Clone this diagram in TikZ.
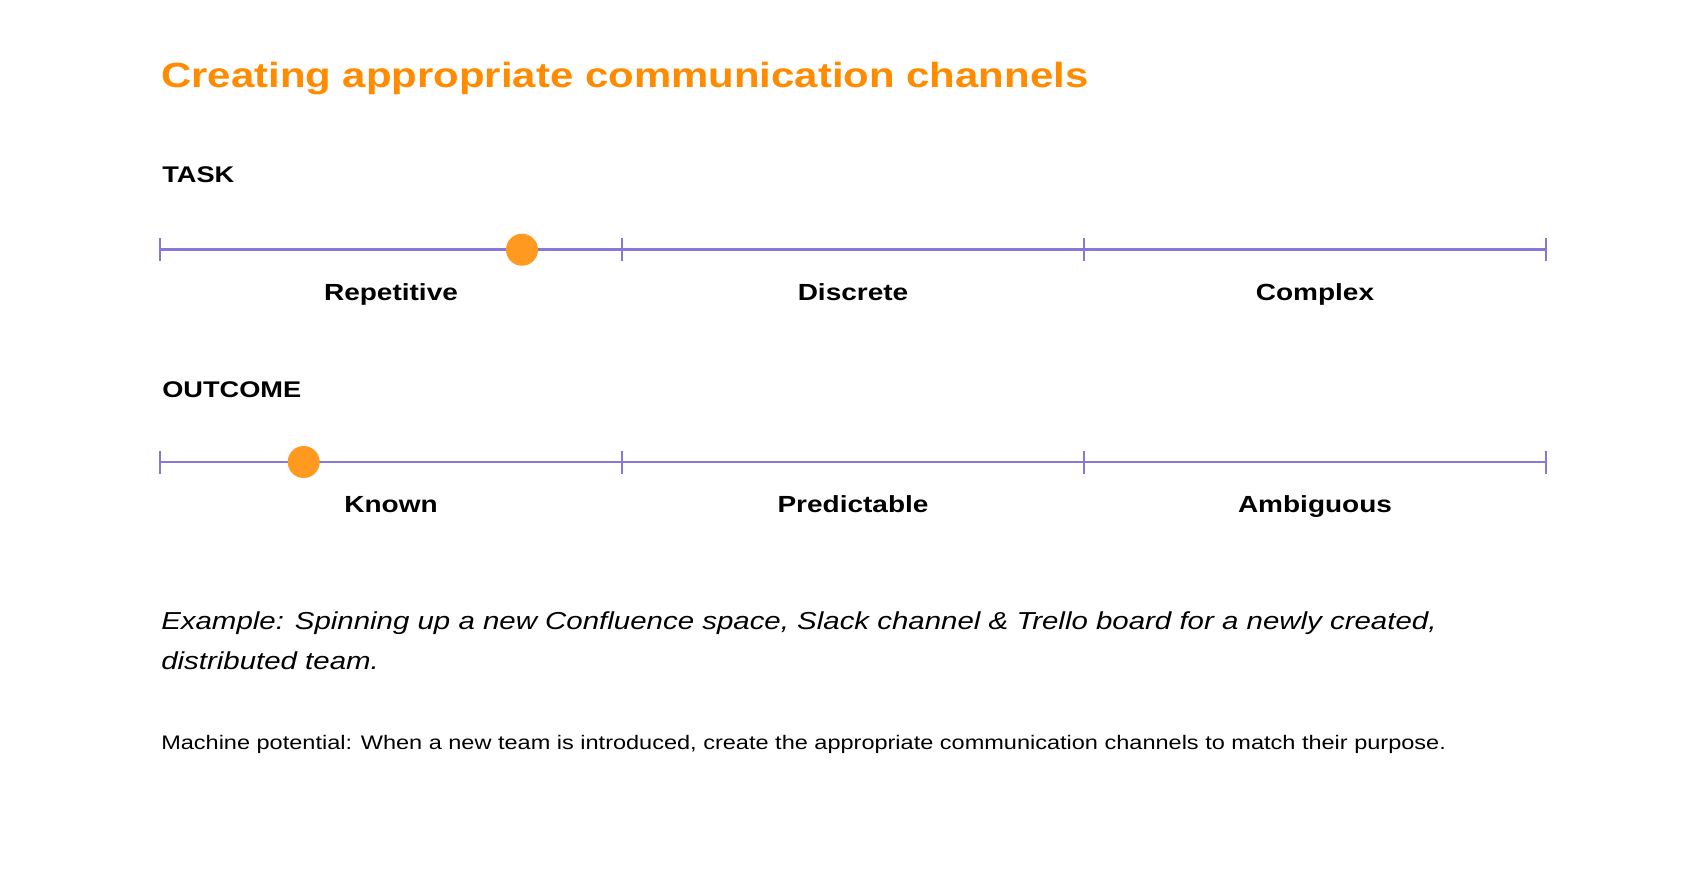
\documentclass[tikz,border=0pt]{standalone}
\usepackage{fontspec}
\setmainfont{Liberation Sans}[FakeStretch=1.2]
\definecolor{scalecol}{HTML}{8777D9}
\definecolor{dotcol}{HTML}{FF991F}
\definecolor{titlecol}{HTML}{FF8B00}
\begin{document}
\begin{tikzpicture}[x=0.75pt,y=-0.75pt,
  scaleline/.style={draw=scalecol, line width=2.1pt},
  tickmark/.style={draw=scalecol, line width=2.2pt},
  marker/.style={circle, fill=dotcol, minimum size=24pt, inner sep=0pt},
  titletext/.style={font=\bfseries\fontsize{26.2}{30}\selectfont, text=titlecol, anchor=base west, inner sep=0pt},
  heading/.style={font=\bfseries\fontsize{17}{20}\selectfont, anchor=base west, inner sep=0pt},
  catlabel/.style={font=\bfseries\fontsize{17.5}{20}\selectfont, anchor=base, inner sep=0pt},
  exampletext/.style={font=\itshape\fontsize{18.4}{22}\selectfont, anchor=base west, inner sep=0pt},
  notetext/.style={font=\fontsize{14.7}{18}\selectfont, anchor=base west, inner sep=0pt}]
\useasboundingbox (0,0) rectangle (1706,872);
\fill[white] (0,0) rectangle (1706,872);

\node[titletext] (title) at (161,87) {Creating appropriate communication channels};

% TASK scale
\node[heading] (task) at (162,182) {TASK};
\coordinate (a0) at (160,249.7);
\coordinate (a1) at (622,249.7);
\coordinate (a2) at (1084,249.7);
\coordinate (a3) at (1546,249.7);
\draw[scaleline] (a0) -- (a3);
\foreach \p in {a0,a1,a2,a3} \draw[tickmark] (\p) ++(0,-11.5) -- ++(0,23);
\node[marker] (taskdot) at (522,249.7) {};
\node[catlabel] (rep) at (391,300) {Repetitive};
\node[catlabel] (dis) at (853,300) {Discrete};
\node[catlabel] (com) at (1315,300) {Complex};

% OUTCOME scale
\node[heading] (outcome) at (162,397) {OUTCOME};
\coordinate (b0) at (160,462);
\coordinate (b1) at (622,462);
\coordinate (b2) at (1084,462);
\coordinate (b3) at (1546,462);
\draw[scaleline] (b0) -- (b3);
\foreach \p in {b0,b1,b2,b3} \draw[tickmark] (\p) ++(0,-11.5) -- ++(0,23);
\node[marker] (outdot) at (303.7,462) {};
\node[catlabel] (kno) at (391,512) {Known};
\node[catlabel] (pre) at (853,512) {Predictable};
\node[catlabel] (amb) at (1315,512) {Ambiguous};

% texts
\node[exampletext] (ex1) at (161,629) {Example: Spinning up a new Confluence space, Slack channel \& Trello board for a newly created,};
\node[exampletext] (ex2) at (161,669) {distributed team.};
\node[notetext] (note) at (161,749) {Machine potential: When a new team is introduced, create the appropriate communication channels to match their purpose.};
\end{tikzpicture}
\end{document}
